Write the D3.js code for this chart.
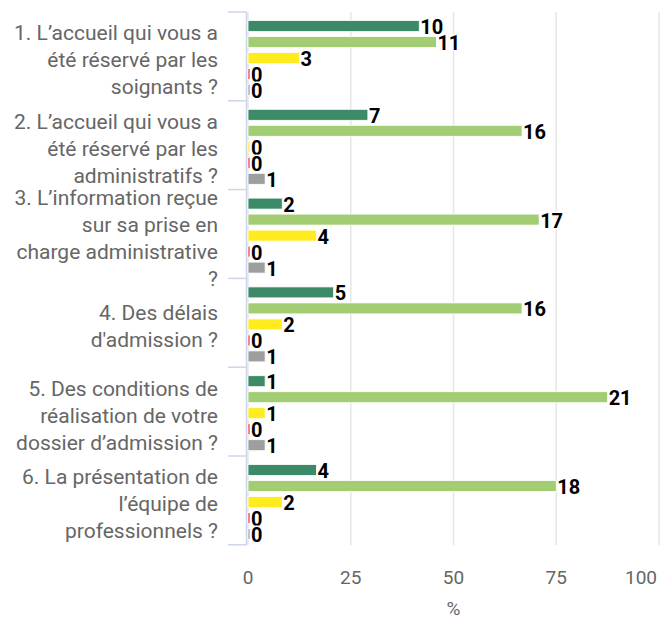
<!DOCTYPE html>
<html>
<head>
<meta charset="utf-8">
<script src="https://cdn.jsdelivr.net/npm/d3@7"></script>
<style>
  body { margin: 0; background: #fff; }
  svg { font-family: Roboto, "Noto Sans", sans-serif; }
</style>
</head>
<body>
<script>
var width = 661,
	height = 619;

// questions (y categories), line breaks as in the original
var categories = [
	"1. L’accueil qui vous a\nété réservé par les\nsoignants ?",
	"2. L’accueil qui vous a\nété réservé par les\nadministratifs ?",
	"3. L’information reçue\nsur sa prise en\ncharge administrative\n?",
	"4. Des délais\nd'admission ?",
	"5. Des conditions de\nréalisation de votre\ndossier d’admission ?",
	"6. La présentation de\nl’équipe de\nprofessionnels ?"
];

// answer counts per series, one value per question
var seriesNames = ["s1", "s2", "s3", "s4", "s5"];
var serie1 = [10, 7, 2, 5, 1, 4];
var serie2 = [11, 16, 17, 16, 21, 18];
var serie3 = [3, 0, 4, 2, 1, 2];
var serie4 = [0, 0, 0, 0, 0, 0];
var serie5 = [0, 1, 1, 1, 1, 0];
var colors = ["#3d8a68", "#a3cd72", "#ffec1f", "#e8354f", "#9e9e9e"];

var xTicks = [0, 25, 50, 75, 100];
var xTitle = "%";

var allSeries = [serie1, serie2, serie3, serie4, serie5];

var svg = d3.select("body").append("svg").attr("width", width).attr("height", height);

var x = d3.scaleLinear().domain([0, 100]).range([248, 659]);
var y = d3.scaleBand().domain(categories).range([12, 544.8]);
var ys = d3.scaleBand().domain(seriesNames).range([6, 86]).paddingInner(0.3125).paddingOuter(0.15625);

// grid
svg.append("g").selectAll("line").data(xTicks).enter().append("line")
	.attr("x1", (d) => x(d)).attr("x2", (d) => x(d))
	.attr("y1", 12).attr("y2", 545)
	.attr("stroke", "#e6e6e6").attr("stroke-width", 1.5);

// x tick labels
svg.append("g").selectAll("text").data(xTicks).enter().append("text")
	.attr("x", (d) => d == 100 ? 657 : x(d))
	.attr("y", 584)
	.attr("text-anchor", (d) => d == 100 ? "end" : "middle")
	.attr("fill", "#666").style("font-size", "19px")
	.text((d) => d);

svg.append("text").attr("x", (x(0) + x(100)) / 2).attr("y", 615)
	.attr("text-anchor", "middle").attr("fill", "#666").style("font-size", "19px")
	.text(xTitle);

// y axis line + ticks
var yAxis = svg.append("g");
yAxis.append("line").attr("x1", 246.5).attr("x2", 246.5).attr("y1", 12).attr("y2", 545)
	.attr("stroke", "#ccd6eb").attr("stroke-width", 1.5);
yAxis.selectAll("line.tick").data(categories.concat(["end"])).enter().append("line").attr("class", "tick")
	.attr("x1", 228).attr("x2", 246.5)
	.attr("y1", (d) => d == "end" ? 544.8 : y(d)).attr("y2", (d) => d == "end" ? 544.8 : y(d))
	.attr("stroke", "#ccd6eb").attr("stroke-width", 1.5);

// category labels
var lineH = 27;
svg.append("g").selectAll("text").data(categories).enter().append("text")
	.attr("text-anchor", "end").attr("fill", "#666").style("font-size", "21px")
	.each(function (d) {
		var t = d3.select(this), lines = d.split("\n");
		var top = y(d) + y.bandwidth() / 2 + 2 - (lines.length - 1) * lineH / 2 + 9;
		lines.forEach((l, i) => {
			t.append("tspan").attr("x", 218).attr("y", top + i * lineH).text(l);
		});
	});

// bars
var groups = svg.append("g").selectAll("g").data(categories).enter().append("g")
	.attr("transform", (d) => "translate(0," + y(d) + ")");

function pct(ci, si) {
	var total = d3.sum(allSeries, (s) => s[ci]);
	return allSeries[si][ci] / total * 100;
}

groups.each(function (c, ci) {
	var g = d3.select(this);
	var data = seriesNames.map((s, si) => ({ s: s, si: si, v: allSeries[si][ci], p: pct(ci, si) }));
	g.selectAll("rect").data(data).enter().append("rect")
		.attr("x", x(0))
		.attr("y", (d) => ys(d.s))
		.attr("height", ys.bandwidth())
		.attr("width", (d) => Math.max(x(d.p) - x(0), 2))
		.attr("fill", (d) => colors[d.si])
		.attr("stroke", "#fff").attr("stroke-width", 0.8);
	g.selectAll("text").data(data).enter().append("text")
		.attr("x", (d) => Math.max(x(d.p), x(0) + 2) + 1)
		.attr("y", (d) => ys(d.s) + ys.bandwidth() / 2 + 8)
		.style("font-size", "20px").style("font-weight", "bold")
		.attr("fill", "#000").attr("stroke", "#fff").attr("stroke-width", 3)
		.attr("paint-order", "stroke").attr("stroke-linejoin", "round")
		.text((d) => d.v);
});
</script>
</body>
</html>
